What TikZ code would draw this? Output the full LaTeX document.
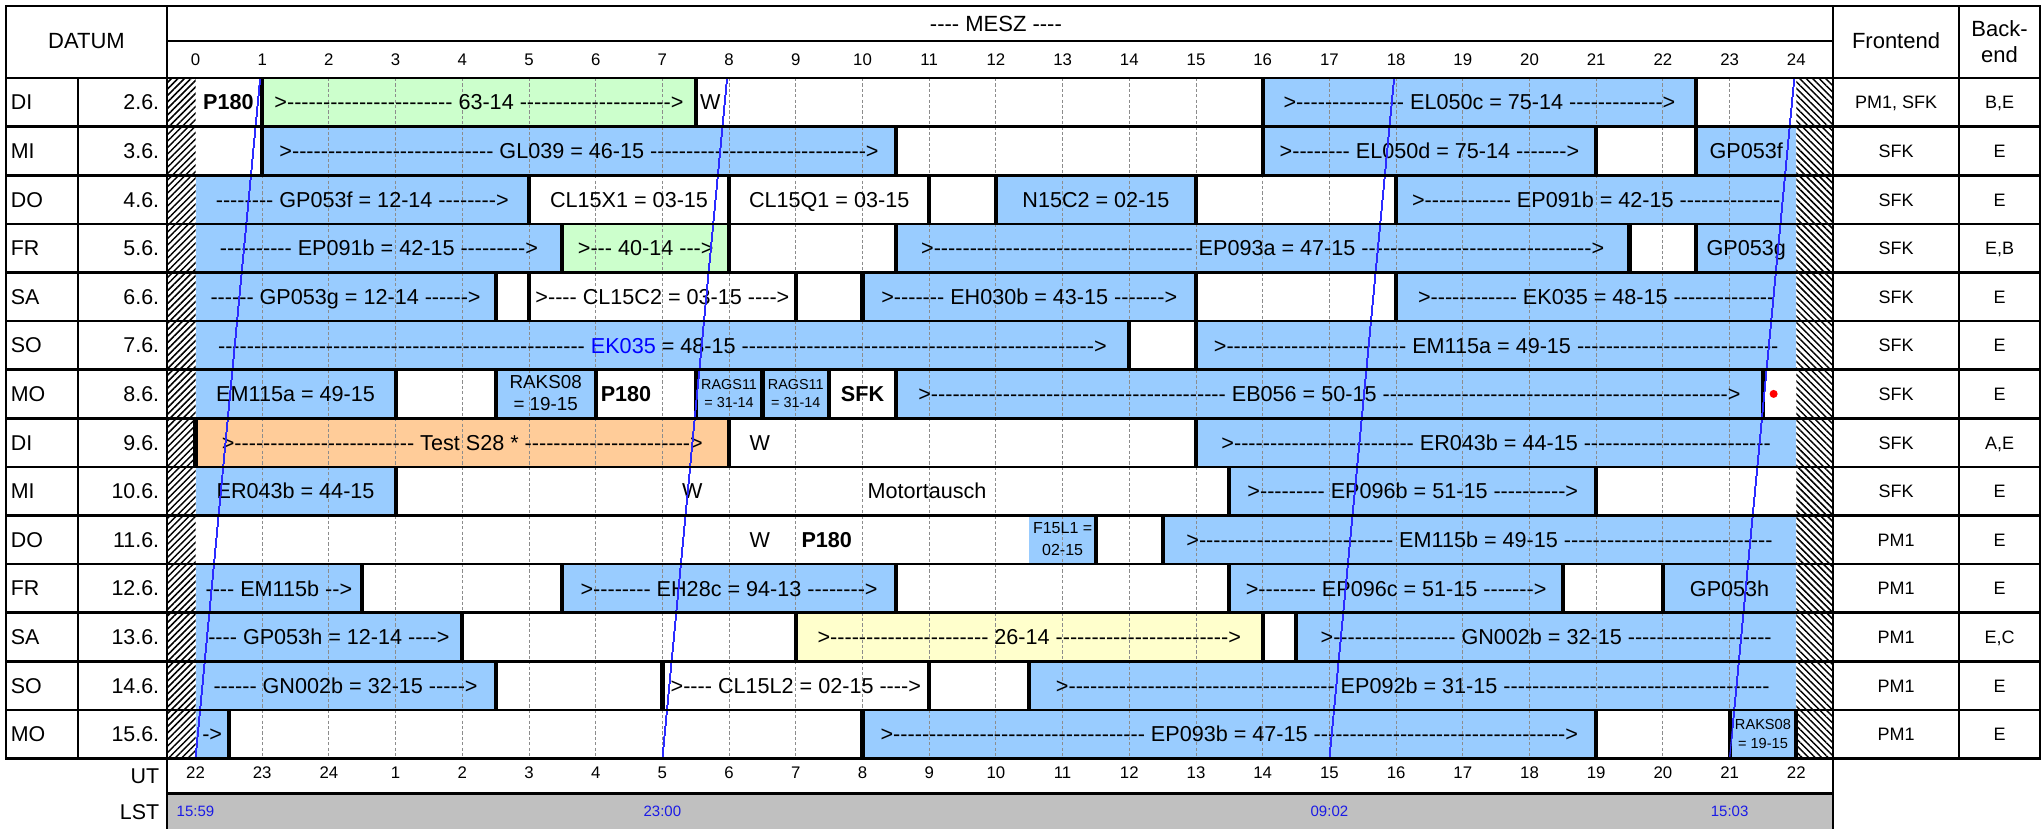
\documentclass[tikz,border=0pt]{standalone}
\usepackage{fontspec}
\setmainfont{Liberation Sans}
\usetikzlibrary{patterns.meta}
\definecolor{bblue}{HTML}{99CCFF}
\definecolor{bgreen}{HTML}{CCFFCC}
\definecolor{borange}{HTML}{FFCC99}
\definecolor{byellow}{HTML}{FFFFCC}
\definecolor{lstgray}{HTML}{C0C0C0}
\definecolor{lstblue}{HTML}{1A1AE6}
\definecolor{dline}{HTML}{2B2BFF}
\ExplSyntaxOn
\cs_new:Npn \mydsh #1 { \prg_replicate:nn {#1} { \kern0pt - } }
\ExplSyntaxOff
\newcommand\bx[4]{\fill[#4] (#2,#1) rectangle (#3,#1+1);}
\newcommand\br[2]{\draw[tbar] (#2,#1) -- (#2,#1+1);}
\newcommand\bt[5]{\node[tx] (#1) at ({(#3+#4)/2},#2+0.5) {#5};}
\begin{document}
\begin{tikzpicture}[x=0.5pt,y=-0.5pt,
 tx/.style={font=\fontsize{10.8}{13}\selectfont,inner sep=0pt,text height=7.7pt,text depth=0pt},
 bd/.style={tx,font=\fontsize{10.8}{13}\selectfont\bfseries},
 dl/.style={font=\fontsize{10.7}{13}\selectfont,inner sep=0pt,text height=7.6pt,text depth=0pt},
 hr/.style={font=\fontsize{8.4}{10}\selectfont,inner sep=0pt,text height=6pt,text depth=0pt},
 hd/.style={font=\fontsize{11}{13}\selectfont,inner sep=0pt,text height=7.9pt,text depth=0pt},
 fe/.style={font=\fontsize{9}{11}\selectfont,inner sep=0pt,text height=6.5pt,text depth=0pt},
 sm/.style={font=\fontsize{8}{9}\selectfont,inner sep=0pt,text height=5.7pt,text depth=0pt},
 sk/.style={font=\fontsize{7.3}{9}\selectfont,inner sep=0pt,text height=5.2pt,text depth=0pt},
 rg/.style={font=\fontsize{7.2}{9}\selectfont,inner sep=0pt,text height=5.2pt,text depth=0pt},
 rk/.style={font=\fontsize{9.4}{11}\selectfont,inner sep=0pt,text height=6.7pt,text depth=0pt},
 lstl/.style={font=\fontsize{7.5}{9}\selectfont,inner sep=0pt,text height=5.4pt,text depth=0pt,text=lstblue},
 tbar/.style={line width=2.1pt},
 frame/.style={line width=1.3pt,line cap=rect},
 gridl/.style={draw=black!45,line width=0.5pt,dash pattern=on 1.6pt off 1.1pt},
 lstline/.style={draw=dline,line width=0.45pt},
 hatchL/.style={pattern={Lines[angle=45,distance=2.3pt,line width=0.75pt]}},
 hatchR/.style={pattern={Lines[angle=-45,distance=2.3pt,line width=0.75pt]}}]
\useasboundingbox (0,0) rectangle (2044,829);
\fill[white] (0,0) rectangle (2044,829);
\fill[lstgray] (167,793.5) rectangle (1833,829);
\fill[hatchL] (167,78) rectangle (195.5,758.4);
\fill[hatchR] (1796.3,78) rectangle (1833,758.4);
\begin{scope}[xshift=97.75pt,yshift=-39pt,x=33.35pt,y=-24.3pt]
% boxes
\bx{0}{1}{7.5}{bgreen}
\bx{0}{16}{22.5}{bblue}
\bx{1}{1}{10.5}{bblue}
\bx{1}{16}{21}{bblue}
\bx{1}{22.5}{24}{bblue}
\bx{2}{0}{5}{bblue}
\bx{2}{12}{15}{bblue}
\bx{2}{18}{24}{bblue}
\bx{3}{0}{5.5}{bblue}
\bx{3}{5.5}{8}{bgreen}
\bx{3}{10.5}{21.5}{bblue}
\bx{3}{22.5}{24}{bblue}
\bx{4}{0}{4.5}{bblue}
\bx{4}{10}{15}{bblue}
\bx{4}{18}{24}{bblue}
\bx{5}{0}{14}{bblue}
\bx{5}{15}{24}{bblue}
\bx{6}{0}{3}{bblue}
\bx{6}{4.5}{6}{bblue}
\bx{6}{7.5}{9.5}{bblue}
\bx{6}{10.5}{23.5}{bblue}
\bx{7}{0}{8}{borange}
\bx{7}{15}{24}{bblue}
\bx{8}{0}{3}{bblue}
\bx{8}{15.5}{21}{bblue}
\bx{9}{12.5}{13.5}{bblue}
\bx{9}{14.5}{24}{bblue}
\bx{10}{0}{2.5}{bblue}
\bx{10}{5.5}{10.5}{bblue}
\bx{10}{15.5}{20.5}{bblue}
\bx{10}{22}{24}{bblue}
\bx{11}{0}{4}{bblue}
\bx{11}{9}{16}{byellow}
\bx{11}{16.5}{24}{bblue}
\bx{12}{0}{4.5}{bblue}
\bx{12}{12.5}{24}{bblue}
\bx{13}{0}{0.5}{bblue}
\bx{13}{10}{21}{bblue}
\bx{13}{23}{24}{bblue}
% hour grid
\foreach \h in {1,...,23} \draw[gridl] (\h,0) -- (\h,14);
% header hours and UT
\foreach \h in {0,...,24} {
  \node[hr] (hh\h) at (\h,-0.38) {\h};
  \pgfmathtruncatemacro\u{mod(\h+21,24)+1}
  \node[hr] (ut\h) at (\h,14.3) {\u};
}
\node[hd] (mesz) at (12,-1.11) {\mydsh{4} MESZ \mydsh{4}};
% row 0
\node[bd,anchor=west] (n00) at (0.11,0.5) {P180};
\bt{n01}{0}{1}{7.5}{>\mydsh{23} 63-14 \mydsh{21}>}
\node[tx,anchor=west] (n02) at (7.56,0.5) {W};
\bt{n03}{0}{16}{22.5}{>\mydsh{15} EL050c = 75-14 \mydsh{13}>}
% row 1
\bt{n10}{1}{1}{10.5}{>\mydsh{28} GL039 = 46-15 \mydsh{30}>}
\bt{n11}{1}{16}{21}{>\mydsh{8} EL050d = 75-14 \mydsh{7}>}
\bt{n12}{1}{22.5}{24}{GP053f}
% row 2
\bt{n20}{2}{0}{5}{\mydsh{8} GP053f = 12-14 \mydsh{8}>}
\bt{n21}{2}{5}{8}{CL15X1 = 03-15}
\bt{n22}{2}{8}{11}{CL15Q1 = 03-15}
\bt{n23}{2}{12}{15}{N15C2 = 02-15}
\bt{n24}{2}{18}{24}{>\mydsh{12} EP091b = 42-15 \mydsh{14}}
% row 3
\bt{n30}{3}{0}{5.5}{\mydsh{10} EP091b = 42-15 \mydsh{9}>}
\bt{n31}{3}{5.5}{8}{>\mydsh{3} 40-14 \mydsh{3}>}
\bt{n32}{3}{10.5}{21.5}{>\mydsh{36} EP093a = 47-15 \mydsh{32}>}
\bt{n33}{3}{22.5}{24}{GP053g}
% row 4
\bt{n40}{4}{0}{4.5}{\mydsh{6} GP053g = 12-14 \mydsh{6}>}
\bt{n41}{4}{5}{9}{>\mydsh{4} CL15C2 = 03-15 \mydsh{4}>}
\bt{n42}{4}{10}{15}{>\mydsh{7} EH030b = 43-15 \mydsh{7}>}
\bt{n43}{4}{18}{24}{>\mydsh{12} EK035 = 48-15 \mydsh{14}}
% row 5
\bt{n50}{5}{0}{14}{\mydsh{51} \textcolor{blue}{EK035} = 48-15 \mydsh{49}>}
\bt{n51}{5}{15}{24}{>\mydsh{25} EM115a = 49-15 \mydsh{28}}
% row 6
\bt{n60}{6}{0}{3}{EM115a = 49-15}
\node[rk] (n61a) at (5.25,6.25) {RAKS08};
\node[rk] (n61b) at (5.25,6.7) {= 19-15};
\node[bd,anchor=west] (n62) at (6.07,6.5) {P180};
\node[rg] (n63a) at (8,6.3) {RAGS11};
\node[rg] (n63b) at (8,6.67) {= 31-14};
\node[rg] (n64a) at (9,6.3) {RAGS11};
\node[rg] (n64b) at (9,6.67) {= 31-14};
\node[bd] (n65) at (10,6.5) {SFK};
\bt{n66}{6}{10.5}{23.5}{>\mydsh{41} EB056 = 50-15 \mydsh{48}>}
\fill[red] (23.66,6.5) circle[radius=2pt];
% row 7
\bt{n70}{7}{0}{8}{>\mydsh{25} Test S28 * \mydsh{23}>}
\node[tx,anchor=west] (n71) at (8.3,7.5) {W};
\bt{n72}{7}{15}{24}{>\mydsh{25} ER043b = 44-15 \mydsh{26}}
% row 8
\bt{n80}{8}{0}{3}{ER043b = 44-15}
\node[tx,anchor=west] (n81) at (7.29,8.5) {W};
\node[tx,anchor=west] (n82) at (10.07,8.5) {Motortausch};
\bt{n83}{8}{15.5}{21}{>\mydsh{9} EP096b = 51-15 \mydsh{10}>}
% row 9
\node[tx,anchor=west] (n90) at (8.3,9.5) {W};
\node[bd,anchor=west] (n91) at (9.08,9.5) {P180};
\node[sm] (n92a) at (13,9.265) {F15L1 =};
\node[sm] (n92b) at (13,9.7) {02-15};
\bt{n93}{9}{14.5}{24}{>\mydsh{27} EM115b = 49-15 \mydsh{29}}
% row 10
\bt{n100}{10}{0}{2.5}{\mydsh{4} EM115b \mydsh{2}>}
\bt{n101}{10}{5.5}{10.5}{>\mydsh{8} EH28c = 94-13 \mydsh{8}>}
\bt{n102}{10}{15.5}{20.5}{>\mydsh{8} EP096c = 51-15 \mydsh{7}>}
\bt{n103}{10}{22}{24}{GP053h}
% row 11
\bt{n110}{11}{0}{4}{\mydsh{4} GP053h = 12-14 \mydsh{4}>}
\bt{n111}{11}{9}{16}{>\mydsh{22} 26-14 \mydsh{24}>}
\bt{n112}{11}{16.5}{24}{>\mydsh{17} GN002b = 32-15 \mydsh{20}}
% row 12
\bt{n120}{12}{0}{4.5}{\mydsh{6} GN002b = 32-15 \mydsh{5}>}
\bt{n121}{12}{7}{11}{>\mydsh{4} CL15L2 = 02-15 \mydsh{4}>}
\bt{n122}{12}{12.5}{24}{>\mydsh{37} EP092b = 31-15 \mydsh{37}}
% row 13
\bt{n130}{13}{0}{0.5}{->}
\bt{n131}{13}{10}{21}{>\mydsh{35} EP093b = 47-15 \mydsh{35}>}
\node[sk] (n132a) at (23.5,13.29) {RAKS08};
\node[sk] (n132b) at (23.5,13.68) {= 19-15};
% bars
\foreach \r/\h in {0/1,0/7.5,0/16,0/22.5,1/1,1/10.5,1/16,1/21,1/22.5,
 2/5,2/8,2/11,2/12,2/15,2/18,3/5.5,3/8,3/10.5,3/21.5,3/22.5,
 4/4.5,4/5,4/9,4/10,4/15,4/18,5/14,5/15,
 6/3,6/4.5,6/6,6/7.5,6/8.5,6/9.5,6/10.5,6/23.5,7/0,7/8,7/15,
 8/3,8/15.5,8/21,9/13.5,9/14.5,10/2.5,10/5.5,10/10.5,10/15.5,10/20.5,10/22,
 11/4,11/9,11/16,11/16.5,12/4.5,12/7,12/11,12/12.5,
 13/0.5,13/10,13/21,13/23,13/24} \br{\r}{\h}
% LST lines
\foreach \b in {0,7,17,23} \draw[lstline] (\b+0.97,0) -- (\b,14);
\node[lstl] (lst1) at (0,15.09) {15:59};
\node[lstl] (lst2) at (7,15.09) {23:00};
\node[lstl] (lst3) at (17,15.09) {09:02};
\node[lstl] (lst4) at (23,15.09) {15:03};
\end{scope}
% left and right columns
\node[hd] (datum) at (86.5,41) {DATUM};
\node[hd] (fehd) at (1896,41) {Frontend};
\node[hd] (be1) at (1999.5,28.5) {Back-};
\node[hd] (be2) at (1999.5,55) {end};
\foreach \d/\t/\f/\b [count=\i from 0] in {DI/2.6./{PM1, SFK}/{B,E},MI/3.6./SFK/E,DO/4.6./SFK/E,FR/5.6./SFK/{E,B},SA/6.6./SFK/E,SO/7.6./SFK/E,MO/8.6./SFK/E,DI/9.6./SFK/{A,E},MI/10.6./SFK/E,DO/11.6./PM1/E,FR/12.6./PM1/E,SA/13.6./PM1/{E,C},SO/14.6./PM1/E,MO/15.6./PM1/E} {
  \node[dl,anchor=west] (day\i) at (10.5,{78+48.6*(\i+0.5)}) {\d};
  \node[dl,anchor=east] (date\i) at (159.5,{78+48.6*(\i+0.5)}) {\t};
  \node[fe] (fe\i) at (1896,{78+48.6*(\i+0.5)}) {\f};
  \node[fe] (be\i) at (1999.5,{78+48.6*(\i+0.5)}) {\b};
}
\node[dl,anchor=east] (ut) at (159.5,775.5) {UT};
\node[dl,anchor=east] (lst) at (159.5,811.5) {LST};
% frame
\draw[frame] (6,6) -- (2040,6);
\draw[frame] (6,6) -- (6,758.4);
\draw[frame] (2040,6) -- (2040,758.4);
\foreach \i in {0,...,14} \draw[frame] (6,{78+48.6*\i}) -- (2040,{78+48.6*\i});
\draw[frame] (167,41) -- (1833,41);
\draw[frame] (78,78) -- (78,758.4);
\draw[frame] (167,6) -- (167,829);
\draw[frame] (1833,6) -- (1833,829);
\draw[frame] (1959,6) -- (1959,758.4);
\draw[frame] (167,793.5) -- (1833,793.5);
\end{tikzpicture}
\end{document}
